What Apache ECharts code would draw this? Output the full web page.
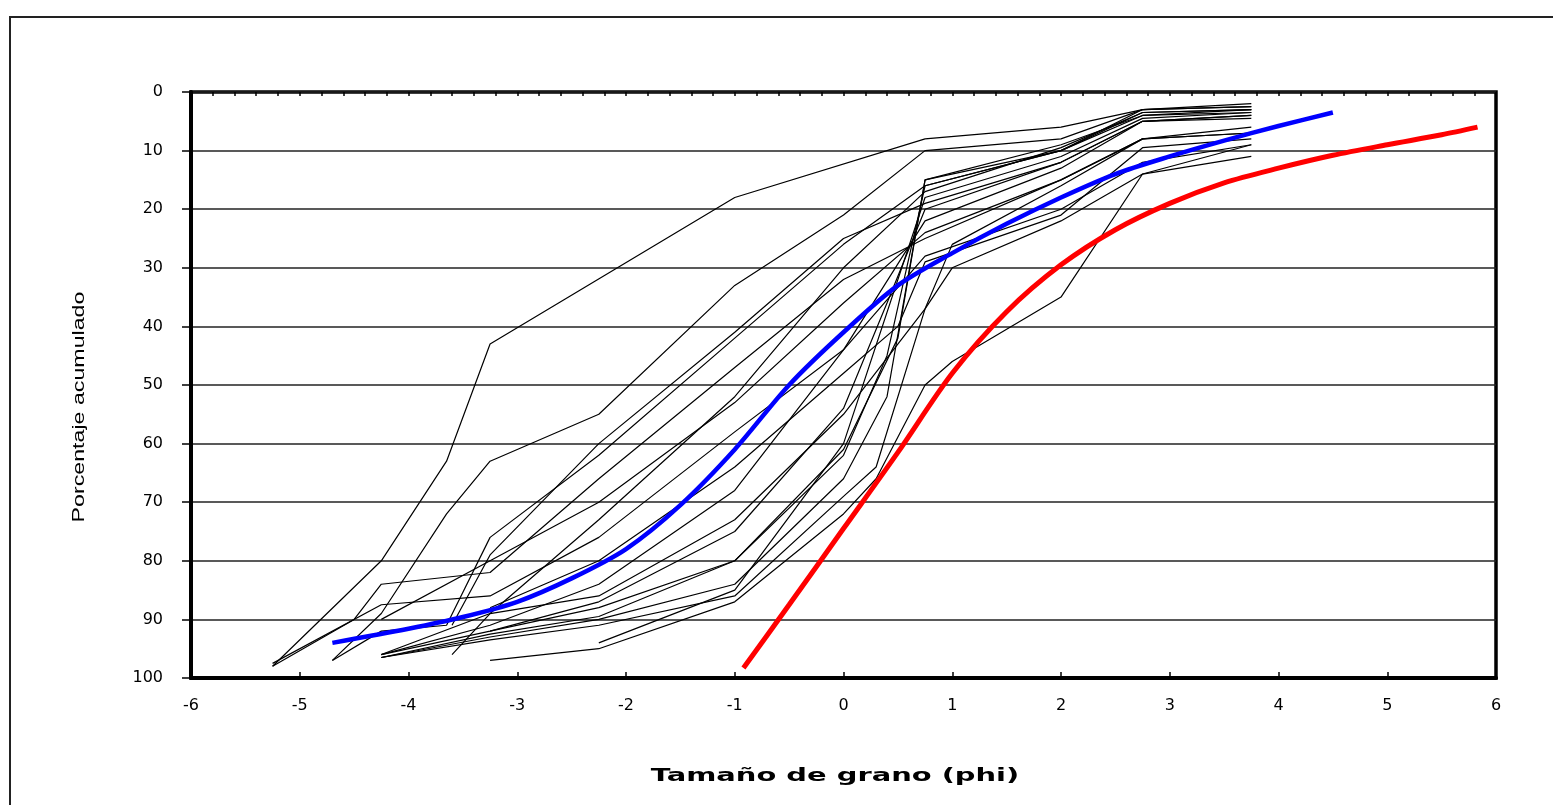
<!DOCTYPE html>
<html>
<head>
<meta charset="utf-8">
<title>Curvas granulometricas</title>
<script src="https://cdn.jsdelivr.net/npm/echarts@6/dist/echarts.min.js"></script>
<style>
	html, body { margin: 0; padding: 0; background: #fff; }
	#echart1 { width: 1553px; height: 805px; }
</style>
</head>
<body>
<div id="echart1"></div>
<script>
// ticks
var ticksX = [-6, -5, -4, -3, -2, -1, 0, 1, 2, 3, 4, 5, 6];
var ticksY = [0, 10, 20, 30, 40, 50, 60, 70, 80, 90, 100];

// muestras: [phi, porcentaje acumulado]
var m1 = [[-5.25, 98], [-4.25, 80], [-3.65, 63], [-3.25, 43], [-1, 18], [0.75, 8], [2, 6], [2.75, 3], [3.75, 2.5]];
var m2 = [[-5.25, 98], [-4.5, 90], [-4.25, 84], [-3.25, 82], [-2.25, 66], [-1, 47], [0, 32], [0.75, 25], [2, 15], [2.75, 8], [3.75, 7]];
var m3 = [[-5.25, 97.5], [-4.25, 87.5], [-3.25, 86], [-2.25, 76], [-1, 58], [0, 44], [0.75, 28], [2, 20], [2.75, 12], [3.75, 9]];
var m4 = [[-4.7, 97], [-4.25, 92], [-3.65, 91], [-3.25, 76], [-2.25, 62], [-1, 42], [0, 26], [0.75, 16], [2, 10], [2.75, 4], [3.75, 3.5]];
var m5 = [[-4.7, 97], [-4.25, 89], [-3.65, 72], [-3.25, 63], [-2.25, 55], [-1, 33], [0, 21], [0.75, 10], [2, 8], [2.75, 3], [3.75, 2]];
var m6 = [[-4.25, 96.5], [-3.25, 92.5], [-2.25, 89.5], [-1, 80], [0, 62], [0.4, 45], [0.75, 16], [2, 10], [2.75, 3.5], [3.75, 3]];
var m7 = [[-4.25, 96.5], [-3.25, 93], [-2.25, 90], [-1, 84], [0, 66], [0.4, 52], [0.75, 15], [2, 9], [2.75, 4], [3.75, 3]];
var m8 = [[-4.25, 96], [-3.25, 92], [-2.25, 87], [-1, 75], [0, 54], [0.4, 36], [0.75, 20], [2, 12], [2.75, 5], [3.75, 4]];
var m9 = [[-4.25, 96.5], [-3.25, 93.5], [-2.25, 91], [-1, 86], [0, 69], [0.3, 64], [0.75, 37], [1, 26], [2, 16], [2.75, 8], [3.75, 6]];
var m10 = [[-4.25, 96], [-3.25, 91], [-2.25, 84], [-1, 68], [0, 44], [0.75, 22], [2, 13], [2.75, 5], [3.75, 4.5]];
var m11 = [[-3.25, 97], [-2.25, 95], [-1, 87], [0, 72], [0.3, 66], [0.75, 50], [1, 46], [2, 35], [2.75, 14], [3.75, 11]];
var m12 = [[-3.6, 96], [-3.25, 89], [-2.25, 86], [-1, 73], [0, 55], [0.75, 37], [1, 30], [2, 22], [2.75, 14], [3.75, 9]];
var m13 = [[-4.25, 90], [-3.25, 80], [-2.25, 70], [-1, 53], [0, 36], [0.75, 24], [2, 15], [2.75, 8], [3.75, 7]];
var m14 = [[-3.6, 91], [-3.25, 79], [-2.25, 60], [-1, 41], [0, 25], [0.75, 19], [2, 12], [2.75, 5], [3.75, 4]];
var m15 = [[-3.25, 88], [-2.25, 80], [-1, 64], [0, 48], [0.5, 40], [0.75, 29], [2, 21], [2.75, 9.5], [3.75, 8]];
var m16 = [[-3.25, 92], [-2.25, 88], [-1, 80], [0, 61], [0.5, 42], [0.75, 15], [2, 10], [2.75, 3], [3.75, 2.5]];
var m17 = [[-2.25, 94], [-1, 85], [0, 60], [0.75, 18], [2, 11], [2.75, 4.5], [3.75, 3.5]];
var m18 = [[-4.25, 96], [-3.25, 89], [-2.25, 73], [-1, 52], [0, 30], [0.75, 17], [2, 9.5], [2.75, 3.5], [3.75, 3]];
var muestras = [m1, m2, m3, m4, m5, m6, m7, m8, m9, m10, m11, m12, m13, m14, m15, m16, m17, m18];

// curvas de ajuste
var curvaAzul = [[-4.7, 94], [-4, 91.6], [-3.5, 89.6], [-3, 87], [-2.5, 83], [-2, 78], [-1.5, 70.5], [-1, 61], [-0.5, 50], [0, 41], [0.5, 33], [1, 27.5], [1.5, 22.5], [2, 18], [2.5, 14], [3, 11], [3.5, 8.3], [4, 5.8], [4.5, 3.5]];
var curvaRoja = [[-0.92, 98.3], [-0.5, 87.5], [0, 74.5], [0.5, 61.5], [1, 48], [1.5, 37.5], [2, 29.5], [2.5, 23.5], [3, 19], [3.5, 15.5], [4, 13], [4.5, 10.8], [5, 9], [5.5, 7.3], [5.83, 6]];

setChart();

function setChart() {
	var series = [];
	for (var i = 0; i < muestras.length; i++) {
		series.push({
			name : 'muestra' + (i + 1),
			type : 'line',
			data : muestras[i],
			symbol : 'none',
			z : 2,
			lineStyle : {
				color : '#000',
				width : 1.2
			}
		});
	}
	series.push({
		name : 'azul',
		type : 'line',
		data : curvaAzul,
		symbol : 'none',
		smooth : 0.3,
		z : 4,
		lineStyle : {
			color : '#0000ff',
			width : 4.5
		}
	});
	series.push({
		name : 'roja',
		type : 'line',
		data : curvaRoja,
		symbol : 'none',
		smooth : 0.3,
		z : 4,
		lineStyle : {
			color : '#ff0000',
			width : 5
		}
	});

	var option = {
		animation : false,
		backgroundColor : '#fff',
		grid : {
			left : 191,
			top : 92,
			right : 57,
			bottom : 127,
			show : true,
			borderColor : '#000',
			borderWidth : 3.5
		},
		graphic : [ {
			type : 'rect',
			shape : { x : 10, y : 17, width : 1600, height : 900 },
			style : { fill : 'none', stroke : '#222', lineWidth : 2 }
		}, {
			type : 'text',
			x : 80,
			y : 407,
			rotation : Math.PI / 2,
			scaleX : 1.45,
			style : {
				text : 'Porcentaje acumulado',
				font : '16px "Liberation Sans Narrow", "Liberation Sans", sans-serif',
				fill : '#000',
				align : 'center',
				verticalAlign : 'middle'
			}
		}, {
			type : 'text',
			x : 835,
			y : 777,
			scaleX : 1.7,
			style : {
				text : 'Tamaño de grano (phi)',
				font : 'bold 17px "DejaVu Sans", sans-serif',
				fill : '#000',
				align : 'center',
				verticalAlign : 'middle'
			}
		} ],
		xAxis : [ {
			type : 'value',
			min : ticksX[0],
			max : ticksX[ticksX.length - 1],
			interval : 1,
			splitLine : { show : false },
			axisLine : {
				onZero : false,
				lineStyle : { color : '#000', width : 4 }
			},
			axisTick : {
				show : true,
				inside : true,
				length : 6,
				lineStyle : { color : '#000', width : 1.5 }
			},
			axisLabel : {
				margin : 20,
				color : '#000',
				fontSize : 16,
				fontFamily : 'DejaVu Sans'
			}
		}, {
			type : 'value',
			position : 'bottom',
			min : -6,
			max : 6,
			interval : 0.2,
			splitLine : { show : false },
			axisLine : { show : false },
			axisLabel : { show : false },
			axisTick : {
				show : true,
				length : 4,
				lineStyle : { color : '#000', width : 1.5 }
			}
		} ],
		yAxis : {
			type : 'value',
			inverse : true,
			min : ticksY[0],
			max : ticksY[ticksY.length - 1],
			interval : 10,
			axisLine : {
				show : true,
				onZero : false,
				lineStyle : { color : '#000', width : 4 }
			},
			axisTick : {
				show : true,
				length : 9,
				lineStyle : { color : '#000', width : 1.5 }
			},
			splitLine : {
				show : true,
				lineStyle : { color : '#222', width : 1.6 }
			},
			axisLabel : {
				margin : 28,
				color : '#000',
				fontSize : 16,
				fontFamily : 'DejaVu Sans'
			}
		},
		series : series
	};

	var myChart = echarts.init(document.getElementById('echart1'));
	myChart.setOption(option, true);
}
</script>
</body>
</html>
